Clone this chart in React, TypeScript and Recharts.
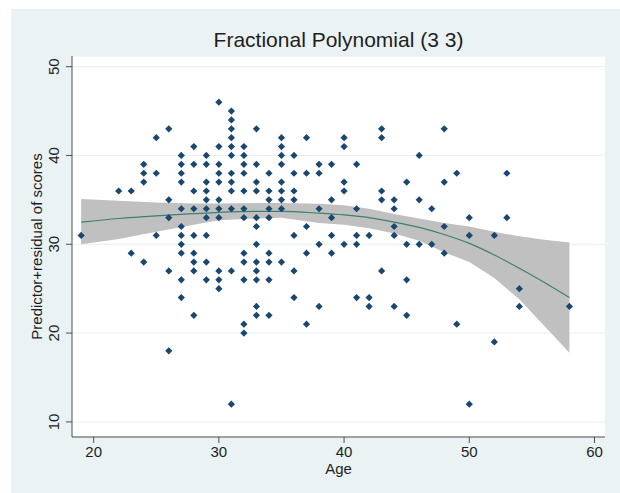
import React from "react";
import {
  ComposedChart,
  Area,
  Line,
  Scatter,
  XAxis,
  YAxis,
  CartesianGrid,
  Label,
} from "recharts";

// observed points, grouped by age column
const ages = [19, 22, 23, 24, 25, 26, 27, 28, 29, 30, 31, 32, 33, 34, 35, 36, 37, 38, 39, 40, 41, 42, 43, 44, 45, 46, 47, 48, 49, 50, 52, 53, 54, 58];
const scoresByAge = [
  [31],
  [36],
  [36, 29],
  [39, 38, 37, 28],
  [42, 38, 31],
  [43, 35, 33, 27, 18],
  [40, 39, 38, 37, 34, 32, 31, 30, 29, 26, 24],
  [41, 39, 36, 34, 31, 29, 28, 27, 22],
  [40, 39, 37, 36, 35, 34, 33, 31, 28, 26],
  [46, 41, 39, 38, 37, 35, 34, 33, 27, 26, 25],
  [45, 44, 43, 42, 41, 40, 38, 37, 36, 34, 27, 12],
  [41, 40, 39, 38, 36, 34, 33, 29, 28, 26, 21, 20],
  [43, 39, 37, 36, 33, 32, 30, 28, 27, 26, 23, 22],
  [38, 36, 35, 34, 33, 29, 28, 26, 22],
  [42, 41, 40, 39, 37, 36, 35, 34, 28],
  [40, 38, 36, 35, 31, 27, 24],
  [42, 38, 32, 29, 21],
  [39, 38, 34, 30, 23],
  [39, 35, 33, 31, 29],
  [42, 41, 37, 36, 30],
  [39, 34, 31, 30, 24],
  [31, 24, 23],
  [43, 42, 36, 35, 27],
  [35, 34, 32, 31, 23],
  [37, 30, 26, 22],
  [40, 35, 30],
  [34, 30],
  [43, 37, 32, 29],
  [38, 21],
  [33, 31, 12],
  [31, 19],
  [38, 33],
  [25, 23],
  [23],
];

// fitted curve and confidence band
const fitAges = [19, 22, 25, 28, 30, 33, 35, 38, 40, 42, 44, 46, 48, 50, 52, 54, 56, 58];
const fitValues = [32.5, 32.9, 33.2, 33.45, 33.6, 33.7, 33.7, 33.5, 33.3, 33.0, 32.5, 31.9, 31.1, 30.1, 28.8, 27.3, 25.7, 24.0];
const bandUpper = [35.1, 34.9, 34.7, 34.6, 34.6, 34.65, 34.65, 34.55, 34.4, 34.0, 33.4, 32.9, 32.4, 32.0, 31.4, 30.9, 30.5, 30.2];
const bandLower = [30.0, 30.6, 31.4, 32.2, 32.7, 32.9, 33.0, 32.4, 32.2, 31.8, 31.2, 30.4, 29.1, 28.0, 26.2, 23.8, 20.8, 17.8];

const xTicks = [20, 30, 40, 50, 60];
const yTicks = [10, 20, 30, 40, 50];

const points = ages.flatMap((age, i) =>
  scoresByAge[i].map((score) => ({ age, score }))
);

const fitRows = fitAges.map((age, i) => ({
  age,
  fit: fitValues[i],
  band: [bandLower[i], bandUpper[i]],
}));

const FONT = "'Liberation Sans', Arial, Helvetica, sans-serif";
const TEXT = "#1e1e24";
const AXIS = "#4f4f4f";

const Diamond = (props: any) => {
  const { cx, cy } = props;
  if (cx == null || cy == null) return null;
  const r = 3.6;
  return (
    <polygon
      points={`${cx},${cy - r} ${cx + r},${cy} ${cx},${cy + r} ${cx - r},${cy}`}
      fill="#1a476f"
    />
  );
};

const YTick = (props: any) => {
  const { x, y, payload } = props;
  const tx = x - 5;
  return (
    <text
      x={tx}
      y={y}
      transform={`rotate(-90 ${tx} ${y})`}
      textAnchor="middle"
      fontSize={15}
      fontFamily={FONT}
      fill={TEXT}
    >
      {payload.value}
    </text>
  );
};

const YTitle = (props: any) => {
  const { viewBox } = props;
  const cx = viewBox.x + 31;
  const cy = viewBox.y + viewBox.height / 2;
  return (
    <text
      x={cx}
      y={cy}
      transform={`rotate(-90 ${cx} ${cy})`}
      textAnchor="middle"
      fontSize={15}
      fontFamily={FONT}
      fill={TEXT}
    >
      Predictor+residual of scores
    </text>
  );
};

const XTitle = (props: any) => {
  const { viewBox } = props;
  return (
    <text
      x={viewBox.x + viewBox.width / 2}
      y={viewBox.y + 37}
      textAnchor="middle"
      fontSize={15}
      fontFamily={FONT}
      fill={TEXT}
    >
      Age
    </text>
  );
};

export default function App() {
  return (
    <div
      style={{
        position: "absolute",
        left: 11,
        top: 9,
        width: 609,
        height: 484,
        background: "#eaf2f3",
      }}
    >
      <div
        style={{
          position: "absolute",
          left: 61,
          width: 533,
          top: 17,
          textAlign: "center",
          fontFamily: FONT,
          fontSize: 21,
          color: TEXT,
          lineHeight: "28px",
        }}
      >
        Fractional Polynomial (3 3)
      </div>
      <ComposedChart
        width={609}
        height={484}
        data={fitRows}
        margin={{ top: 47, right: 15, left: 0, bottom: 0 }}
      >
        <CartesianGrid vertical={false} stroke="#e6eff1" fill="#ffffff" />
        <XAxis
          type="number"
          dataKey="age"
          domain={[18.27, 60.84]}
          allowDataOverflow
          ticks={xTicks}
          height={56}
          tickSize={6}
          tickMargin={3}
          stroke={AXIS}
          tick={{ fontSize: 15, fontFamily: FONT, fill: TEXT }}
          label={<Label content={XTitle} />}
        />
        <YAxis
          type="number"
          domain={[8.3, 51.2]}
          allowDataOverflow
          ticks={yTicks}
          width={61}
          tickSize={6}
          stroke={AXIS}
          tick={YTick}
          label={<Label content={YTitle} />}
        />
        <Area
          type="linear"
          dataKey="band"
          stroke="none"
          fill="#c0c0c0"
          fillOpacity={1}
          isAnimationActive={false}
        />
        <Line
          type="monotone"
          dataKey="fit"
          stroke="#3e7f72"
          strokeWidth={1.2}
          dot={false}
          isAnimationActive={false}
        />
        <Scatter
          data={points}
          dataKey="score"
          shape={Diamond}
          isAnimationActive={false}
        />
      </ComposedChart>
    </div>
  );
}
